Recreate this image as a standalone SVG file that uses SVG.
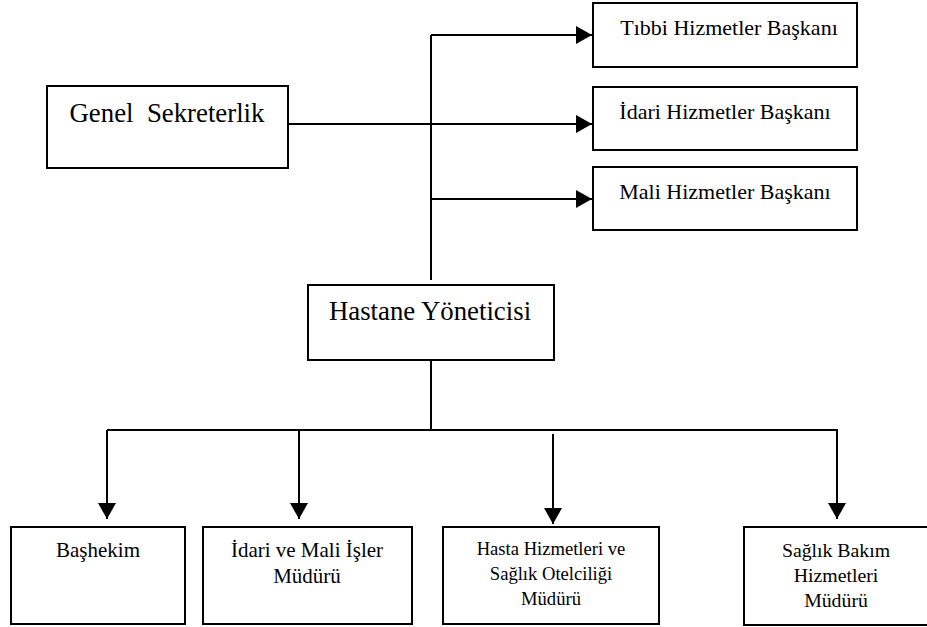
<svg xmlns="http://www.w3.org/2000/svg" width="927" height="627" viewBox="0 0 927 627">
  <style>
    .box { fill: #fff; stroke: #000; stroke-width: 2; }
    .line { fill: none; stroke: #000; stroke-width: 2; }
    text { font-family: "Liberation Serif", "DejaVu Serif", serif; fill: #000; text-anchor: middle; }
    .big { font-size: 26.8px; }
    .head { font-size: 22px; }
    .mid { font-size: 21px; }
    .care { font-size: 19.8px; }
    .sm { font-size: 18.6px; }
  </style>
  <defs>
    <marker id="arrow" viewBox="0 0 16 18" refX="16" refY="9" markerWidth="16" markerHeight="18" markerUnits="userSpaceOnUse" orient="auto">
      <path d="M0,0 L16,9 L0,18 Z" fill="#000"/>
    </marker>
  </defs>

  <g id="connectors">
    <!-- upper trunk and branches to the department heads -->
    <path class="line" d="M431,280 V35"/>
    <path class="line" d="M431,35 H592" marker-end="url(#arrow)"/>
    <path class="line" d="M288,124 H592" marker-end="url(#arrow)"/>
    <path class="line" d="M431,199 H592" marker-end="url(#arrow)"/>
    <!-- lower trunk and branches to the managers -->
    <path class="line" d="M431,360 V430"/>
    <path class="line" d="M107,430 H838"/>
    <path class="line" d="M107,430 V519" marker-end="url(#arrow)"/>
    <path class="line" d="M299,430 V519" marker-end="url(#arrow)"/>
    <path class="line" d="M553,434 V524" marker-end="url(#arrow)"/>
    <path class="line" d="M837,430 V519" marker-end="url(#arrow)"/>
  </g>

  <g id="genel-sekreterlik">
    <rect class="box" x="47" y="86" width="241" height="82"/>
    <text class="big" x="167" y="122" xml:space="preserve">Genel  Sekreterlik</text>
  </g>

  <g id="tibbi-hizmetler">
    <rect class="box" x="593" y="3" width="264" height="64"/>
    <text class="head" x="729" y="35">Tıbbi Hizmetler Başkanı</text>
  </g>

  <g id="idari-hizmetler">
    <rect class="box" x="593" y="87" width="264" height="63"/>
    <text class="head" x="725" y="119">İdari Hizmetler Başkanı</text>
  </g>

  <g id="mali-hizmetler">
    <rect class="box" x="593" y="167" width="264" height="63"/>
    <text class="head" x="725" y="199">Mali Hizmetler Başkanı</text>
  </g>

  <g id="hastane-yoneticisi">
    <rect class="box" x="308" y="285" width="246" height="75"/>
    <text class="big" x="430" y="320">Hastane Yöneticisi</text>
  </g>

  <g id="bashekim">
    <rect class="box" x="11" y="527" width="174" height="97"/>
    <text class="mid" x="98" y="557">Başhekim</text>
  </g>

  <g id="idari-mali-isler">
    <rect class="box" x="203" y="527" width="209" height="97"/>
    <text class="mid" x="307" y="557">İdari ve Mali İşler</text>
    <text class="mid" x="307" y="583">Müdürü</text>
  </g>

  <g id="hasta-hizmetleri">
    <rect class="box" x="443" y="527" width="216" height="97"/>
    <text class="sm" x="551" y="555">Hasta Hizmetleri ve</text>
    <text class="sm" x="551" y="580">Sağlık Otelciliği</text>
    <text class="sm" x="551" y="605">Müdürü</text>
  </g>

  <g id="saglik-bakim">
    <rect class="box" x="744" y="527" width="190" height="98"/>
    <text class="care" x="836" y="557">Sağlık Bakım</text>
    <text class="care" x="836" y="582">Hizmetleri</text>
    <text class="care" x="836" y="607">Müdürü</text>
  </g>
</svg>
